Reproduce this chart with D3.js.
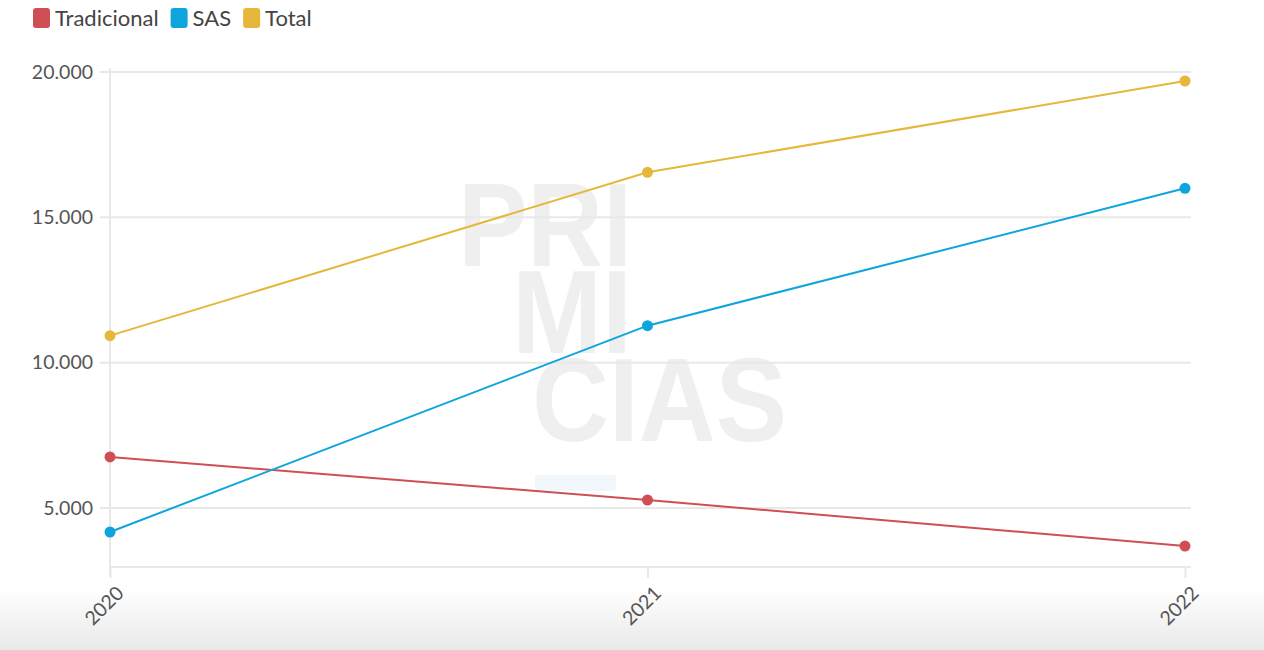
<!DOCTYPE html>
<html><head><meta charset="utf-8">
<script src="https://cdn.jsdelivr.net/npm/d3@7"></script>
<style>body{margin:0;background:#fff;overflow:hidden}svg{display:block}</style>
</head><body>
<svg id="c" width="1264" height="650"></svg>
<script>
const years = ["2020", "2021", "2022"];
const tradicional = [6755, 5275, 3692];
const sas = [4174, 11273, 15998];
const total = [10929, 16548, 19690];
const seriesNames = ["Tradicional", "SAS", "Total"];
const seriesColors = ["#cf4f55", "#0ea5dc", "#e6b73a"];
const yTicks = [5000, 10000, 15000, 20000];

const series = [
  {name: seriesNames[0], values: tradicional, color: seriesColors[0]},
  {name: seriesNames[1], values: sas, color: seriesColors[1]},
  {name: seriesNames[2], values: total, color: seriesColors[2]}
];

const svg = d3.select("#c");
const font = "Lato, 'Source Sans Pro', sans-serif";
const m = {left: 110, right: 1185, top: 72, bottom: 567};

const x = d3.scalePoint().domain(years).range([m.left, m.right]);
const y = d3.scaleLinear().domain([2970, 20000]).range([m.bottom, m.top]);

// bottom gradient
const defs = svg.append("defs");
const g = defs.append("linearGradient").attr("id","bg").attr("x1",0).attr("y1",0).attr("x2",0).attr("y2",1);
g.append("stop").attr("offset","0%").attr("stop-color","#ffffff");
g.append("stop").attr("offset","100%").attr("stop-color","#e9e9e9");
svg.append("rect").attr("x",0).attr("y",588).attr("width",1264).attr("height",62).attr("fill","url(#bg)");

// watermark
const wm = svg.append("g").attr("fill","#efefef").attr("font-family","'Liberation Sans', sans-serif").attr("font-weight","bold").attr("font-size",118);
wm.append("text").attr("x",458).attr("y",266).attr("textLength",174).attr("lengthAdjust","spacingAndGlyphs").text("PRI");
wm.append("text").attr("x",512).attr("y",353).attr("textLength",120).attr("lengthAdjust","spacingAndGlyphs").text("MI");
wm.append("text").attr("x",532).attr("y",441).attr("textLength",255).attr("lengthAdjust","spacingAndGlyphs").text("CIAS");
svg.append("rect").attr("x",535).attr("y",475).attr("width",81).attr("height",16).attr("fill","#f2f7fc");

// grid
svg.append("g").selectAll("line").data(yTicks).join("line")
  .attr("x1", m.left - 10).attr("x2", m.right + 6)
  .attr("y1", d => y(d)).attr("y2", d => y(d))
  .attr("stroke", "#e8e8e8").attr("stroke-width", 2);
svg.append("line").attr("x1", m.left).attr("x2", m.right + 6).attr("y1", m.bottom).attr("y2", m.bottom)
  .attr("stroke", "#e8e8e8").attr("stroke-width", 2);
svg.append("line").attr("x1", m.left).attr("x2", m.left).attr("y1", m.top - 4).attr("y2", m.bottom + 10)
  .attr("stroke", "#e8e8e8").attr("stroke-width", 2);

// y axis labels
const yAxis = d3.axisLeft(y).tickValues(yTicks).tickSize(0).tickPadding(17)
  .tickFormat(d => d3.format(",")(d).replace(/,/g, "."));
const ya = svg.append("g").attr("transform", `translate(${m.left},0)`).call(yAxis);
ya.select(".domain").remove();
ya.selectAll("text").attr("font-family", font).attr("font-size", 19.5).attr("fill", "#555");

// x axis
const xAxis = d3.axisBottom(x).tickSize(11).tickPadding(4);
const xa = svg.append("g").attr("transform", `translate(0,${m.bottom})`).call(xAxis);
xa.select(".domain").remove();
xa.selectAll("line").attr("stroke", "#e8e8e8").attr("stroke-width", 2);
xa.selectAll("text").attr("font-family", font).attr("font-size", 19.5).attr("fill", "#555")
  .attr("text-anchor", "end").attr("dy", "0.35em")
  .attr("transform", "translate(-1,12) rotate(-45)");

// lines
const line = d3.line().x((d, i) => x(years[i])).y(d => y(d));
series.forEach(s => {
  svg.append("path").datum(s.values).attr("d", line).attr("fill", "none")
    .attr("stroke", s.color).attr("stroke-width", 2);
  svg.append("g").selectAll("circle").data(s.values).join("circle")
    .attr("cx", (d, i) => x(years[i])).attr("cy", d => y(d)).attr("r", 5.5).attr("fill", s.color);
});

// legend
const leg = svg.append("g").attr("transform", "translate(33,8)");
let lx = 0;
series.forEach(s => {
  const gi = leg.append("g").attr("transform", `translate(${lx},0)`);
  gi.append("rect").attr("width", 17).attr("height", 20).attr("rx", 3).attr("fill", s.color);
  const t = gi.append("text").attr("x", 22).attr("y", 18).attr("font-family", font).attr("font-size", 22)
    .attr("fill", "#444").text(s.name);
  lx += 22 + t.node().getComputedTextLength() + 12;
});
</script>
</body></html>
